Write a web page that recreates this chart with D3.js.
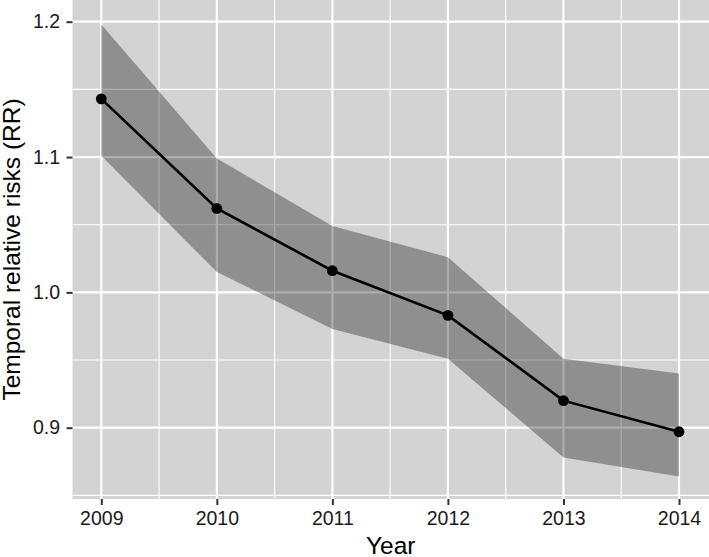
<!DOCTYPE html>
<html>
<head>
<meta charset="utf-8">
<script src="https://cdn.jsdelivr.net/npm/d3@7"></script>
<style>
  body { margin: 0; background: #fff; }
  svg { display: block; font-family: "Liberation Sans", Arial, Helvetica, sans-serif; }
</style>
</head>
<body>
<div class="canvas"></div>
<script>
// data
const years = [2009, 2010, 2011, 2012, 2013, 2014];
const rr = [1.143, 1.062, 1.016, 0.983, 0.920, 0.897];
const rrLower = [1.101, 1.015, 0.973, 0.951, 0.878, 0.864];
const rrUpper = [1.198, 1.099, 1.049, 1.026, 0.951, 0.940];
const yTicks = [0.9, 1.0, 1.1, 1.2];
const yMinor = [0.85, 0.95, 1.05, 1.15];
const xMinor = [2009.5, 2010.5, 2011.5, 2012.5, 2013.5];

// size of the page
const dims = { width: 709, height: 557 };

// panel box
const panel = { left: 72.5, right: 709, top: 0, bottom: 499 };

const svg = d3.select('.canvas')
  .append('svg')
  .attr('width', dims.width)
  .attr('height', dims.height);

// scales (2009 and 2014 sit 5% in from the panel edges, like ggplot)
const x = d3.scaleLinear()
  .domain([2009, 2014])
  .range([101.3, 679]);

const y = d3.scaleLinear()
  .domain([0.9, 1.2])
  .range([427.7, 21.7]);

// panel background
svg.append('rect')
  .attr('x', panel.left)
  .attr('y', panel.top)
  .attr('width', panel.right - panel.left)
  .attr('height', panel.bottom - panel.top)
  .attr('fill', '#d3d3d3');

const grid = svg.append('g');

// minor grid
grid.selectAll('.ymin').data(yMinor).enter().append('line')
  .attr('x1', panel.left).attr('x2', panel.right)
  .attr('y1', d => y(d)).attr('y2', d => y(d))
  .attr('stroke', '#fff').attr('stroke-width', 1.1);

grid.selectAll('.xmin').data(xMinor).enter().append('line')
  .attr('x1', d => x(d)).attr('x2', d => x(d))
  .attr('y1', panel.top).attr('y2', panel.bottom)
  .attr('stroke', '#fff').attr('stroke-width', 1.1);

// major grid
grid.selectAll('.ymaj').data(yTicks).enter().append('line')
  .attr('x1', panel.left).attr('x2', panel.right)
  .attr('y1', d => y(d)).attr('y2', d => y(d))
  .attr('stroke', '#fff').attr('stroke-width', 2.2);

grid.selectAll('.xmaj').data(years).enter().append('line')
  .attr('x1', d => x(d)).attr('x2', d => x(d))
  .attr('y1', panel.top).attr('y2', panel.bottom)
  .attr('stroke', '#fff').attr('stroke-width', 2.2);

// confidence ribbon
const band = years.map((yr, i) => ({ year: yr, lo: rrLower[i], hi: rrUpper[i] }));

const area = d3.area()
  .x(d => x(d.year))
  .y0(d => y(d.lo))
  .y1(d => y(d.hi));

svg.append('path')
  .datum(band)
  .attr('d', area)
  .attr('fill', '#000')
  .attr('fill-opacity', 0.32);

// line + points
const pts = years.map((yr, i) => ({ year: yr, v: rr[i] }));

const line = d3.line()
  .x(d => x(d.year))
  .y(d => y(d.v));

svg.append('path')
  .datum(pts)
  .attr('d', line)
  .attr('fill', 'none')
  .attr('stroke', '#000')
  .attr('stroke-width', 2.6);

svg.selectAll('circle')
  .data(pts)
  .enter()
  .append('circle')
  .attr('cx', d => x(d.year))
  .attr('cy', d => y(d.v))
  .attr('r', 5.4)
  .attr('fill', '#000');

// axes
const xAxis = d3.axisBottom(x)
  .tickValues(years)
  .tickFormat(d3.format('d'))
  .tickSize(6)
  .tickPadding(6.5);

const yAxis = d3.axisLeft(y)
  .tickValues(yTicks)
  .tickFormat(d3.format('.1f'))
  .tickSize(6)
  .tickPadding(6.5);

const gx = svg.append('g')
  .attr('transform', `translate(0, ${panel.bottom})`)
  .call(xAxis);

const gy = svg.append('g')
  .attr('transform', `translate(${panel.left}, 0)`)
  .call(yAxis);

[gx, gy].forEach(g => {
  g.select('.domain').remove();
  g.selectAll('.tick line').attr('stroke', '#333').attr('stroke-width', 2);
  g.selectAll('.tick text')
    .attr('fill', '#1a1a1a')
    .style('font-size', '19.5px')
    .style('font-family', '"Liberation Sans", Arial, sans-serif');
});

// axis titles
svg.append('text')
  .attr('x', (panel.left + panel.right) / 2)
  .attr('y', 554)
  .attr('text-anchor', 'middle')
  .attr('fill', '#000')
  .style('font-size', '24.5px')
  .text('Year');

svg.append('text')
  .attr('transform', `translate(20, ${(panel.top + panel.bottom) / 2}) rotate(-90)`)
  .attr('text-anchor', 'middle')
  .attr('fill', '#000')
  .style('font-size', '24.5px')
  .text('Temporal relative risks (RR)');
</script>
</body>
</html>
